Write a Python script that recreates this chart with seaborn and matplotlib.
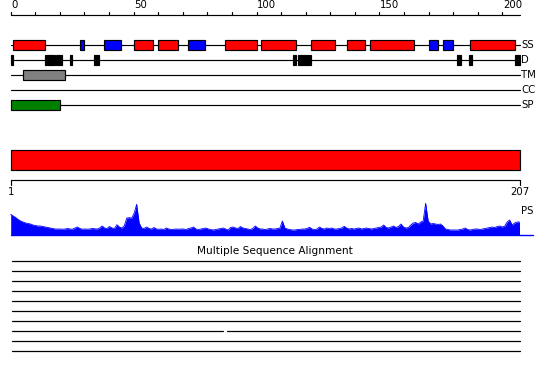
import numpy as np
import pandas as pd
import matplotlib
matplotlib.use("Agg")
import matplotlib.pyplot as plt
import seaborn as sns
from matplotlib.patches import Rectangle

# ---------------- data ----------------
seq_len = 207
ruler_minor = list(range(0, 201, 10))
ruler_labels = [0, 50, 100, 150, 200]

ss_helix = [(1, 14), (50, 58), (60, 68), (87, 100), (102, 116), (122, 132),
            (137, 144), (146, 164), (187, 205)]
ss_strand = [(28, 30), (38, 45), (72, 79), (170, 174), (176, 180)]
disorder = [(0, 1), (14, 18), (18.5, 21), (24, 25), (34, 36), (115, 116),
            (117, 122), (181.5, 183), (186.5, 187.5), (205, 207)]
tm_regions = [(5, 22)]
cc_regions = []
sp_regions = [(0, 20)]
track_names = ["SS", "D", "TM", "CC", "SP"]

ps_scores = [
    20.7, 19, 17.5, 15.5, 14, 13, 12, 11.5, 11, 10,
    9.5, 9, 9, 8.5, 8, 7.5, 7, 6.5, 6, 6,
    6, 5.8, 6, 6.5, 6, 5.8, 7, 8, 6.5, 5.8,
    6, 5.8, 6, 6.5, 6.2, 6, 7, 9, 7, 6.5,
    8.5, 7, 6.5, 10.3, 8, 7, 9.3, 17, 17.3, 17,
    22, 30.7, 12, 7, 6.5, 8, 6.5, 6, 7.5, 6,
    5.8, 6, 5.5, 7, 6, 5.5, 5.8, 6, 5.8, 6,
    6, 5.5, 6.5, 7, 8, 6, 5.5, 6, 6.5, 7,
    6, 5.5, 5, 5.5, 6, 6.5, 7, 6, 5, 7.5,
    8, 7, 6.5, 8.5, 7, 6.5, 6, 5.5, 6.5, 9,
    7, 6, 6, 5.5, 6, 6.5, 6, 6, 6.5, 7,
    14, 7, 6, 5.5, 5, 5, 5.5, 5.5, 6, 6,
    6.5, 7.7, 6, 5.5, 6, 8, 6.5, 6, 7, 6.5,
    7, 6, 6, 6.5, 7, 8.7, 7, 6, 6.5, 6,
    6.5, 7, 6, 6.5, 7, 6.5, 6, 6.5, 7, 7.5,
    8, 10, 7.5, 7, 8, 9, 7.5, 8.5, 11, 8,
    7, 7.5, 10, 12, 12.5, 11, 13, 14, 31.7, 14,
    11, 11.5, 11, 10.5, 11, 9, 6, 5.5, 5, 5,
    5, 5, 5.5, 6, 7, 5.5, 5, 5.5, 6, 6,
    5.5, 6, 6.5, 7, 7.5, 8, 7.5, 8.5, 9, 8,
    9, 13, 15, 10, 12, 13, 13,
]

msa_title = "Multiple Sequence Alignment"
msa_rows = 10
msa_gaps = {7: [(86.5, 88.0)]}

# ---------------- layout ----------------
PX = 2.458          # pixels per residue
X0 = 10.7           # pixel of residue 0
FS = 7.3
LW = 0.85

sns.set_theme(style="white")
plt.rcParams['font.family'] = ['DejaVu Sans']
plt.rcParams['text.color'] = 'black'

fig = plt.figure(figsize=(5.5, 3.8), dpi=100)
ax = fig.add_axes([0, 0, 1, 1])
ax.set_xlim(-X0 / PX, (550 - X0) / PX)
ax.set_ylim(380, 0)
ax.axis("off")

# top ruler
ax.plot([0, seq_len], [15, 15], color="black", lw=LW)
for t in ruler_minor:
    ax.plot([t, t], [15, 12], color="black", lw=LW)
for t in ruler_labels:
    ax.text(t + 0.3, 10.5, str(t), fontsize=FS, ha="left", va="bottom", color="black")

# feature tracks
track_y = {"SS": 45, "D": 60, "TM": 75, "CC": 90, "SP": 105}
for name in track_names:
    y = track_y[name]
    ax.plot([0, seq_len], [y, y], color="black", lw=LW, zorder=1)
    ax.text(seq_len + 0.6, y, name, fontsize=FS, ha="left", va="center", color="black")


def boxes(regions, y, h, color):
    for s, e in regions:
        ax.add_patch(Rectangle((s, y - h / 2), e - s, h, facecolor=color,
                               edgecolor="black", lw=LW, zorder=2))


boxes(ss_helix, track_y["SS"], 10, "#ff0000")
boxes(ss_strand, track_y["SS"], 10, "#0000ff")
boxes(disorder, track_y["D"], 10, "black")
boxes(tm_regions, track_y["TM"], 10, "#808080")
boxes(cc_regions, track_y["CC"], 10, "#ffff00")
boxes(sp_regions, track_y["SP"], 10, "#008000")

# big red domain bar
ax.add_patch(Rectangle((0, 150), seq_len, 20, facecolor="#ff0000",
                       edgecolor="black", lw=LW, zorder=2))

# lower ruler
ax.plot([0, seq_len], [180, 180], color="black", lw=LW)
ax.plot([0, 0], [180, 185], color="black", lw=LW)
ax.plot([seq_len, seq_len], [180, 185], color="black", lw=LW)
ax.text(0, 187, "1", fontsize=FS, ha="center", va="top", color="black")
ax.text(seq_len, 187, str(seq_len), fontsize=FS, ha="center", va="top", color="black")

# PS profile
base = 235
xs = np.linspace(0, seq_len, len(ps_scores))
ys = base - np.array(ps_scores)
df = pd.DataFrame({"x": xs, "y": ys})
ax.fill_between(xs, ys, base, color="#0000ff", lw=0, zorder=2)
sns.lineplot(data=df, x="x", y="y", ax=ax, color="#0000ff", lw=0.6, zorder=3)
ax.plot([0, (533 - X0) / PX], [base, base], color="#0000ff", lw=1.0)
ax.text(seq_len + 0.6, 211, "PS", fontsize=FS, ha="left", va="center", color="black")

# MSA
ax.text((275 - X0) / PX, 251, msa_title, fontsize=FS + 0.3, ha="center", va="center",
        color="black")
x_start = (12.3 - X0) / PX
for r in range(msa_rows):
    y = 260.5 + 10 * r
    segs = []
    cur = x_start
    for gs, ge in msa_gaps.get(r, []):
        segs.append((cur, gs))
        cur = ge
    segs.append((cur, seq_len))
    for s, e in segs:
        ax.plot([s, e], [y, y], color="black", lw=0.9)

ax.set_xlabel("")
ax.set_ylabel("")
fig.savefig("out.png", dpi=100)
